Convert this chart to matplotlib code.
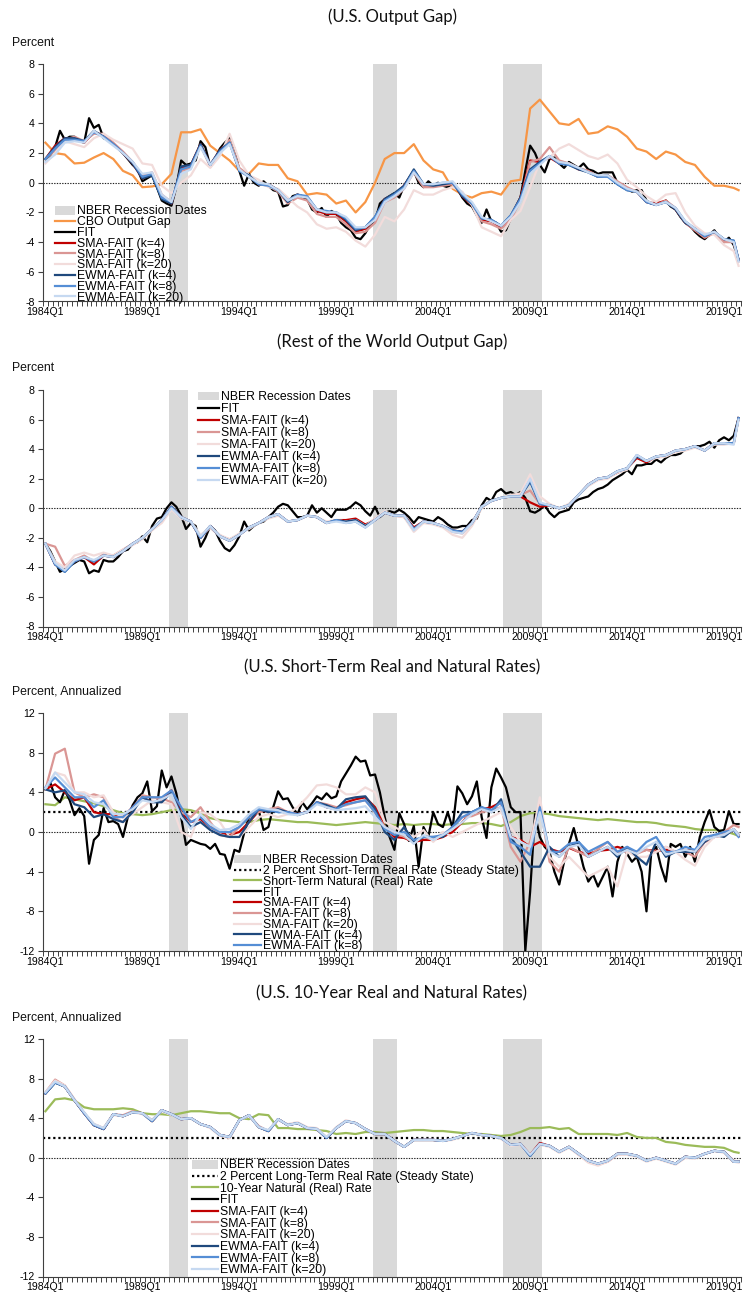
import matplotlib
matplotlib.use("Agg")
import matplotlib.pyplot as plt
from matplotlib.patches import Patch

# ---------------- categories ----------------
START_YEAR = 1984
N_Q = 144
QUARTERS = [f"{START_YEAR + k // 4}Q{k % 4 + 1}" for k in range(N_Q)]
TICK_LABELS = ["1984Q1", "1989Q1", "1994Q1", "1999Q1", "2004Q1", "2009Q1", "2014Q1", "2019Q1"]
RECESSIONS = [("1990Q3", "1991Q2"), ("2001Q1", "2002Q1"), ("2007Q4", "2009Q3")]
# semi-annual readings (Q1 and Q3 of each year, plus the last quarter)
SEMI_Q = QUARTERS[0::2] + [QUARTERS[-1]]

# ---------------- Panel 1: U.S. output gap ----------------
us_cbo = [2.7, 2.0, 1.9, 1.3, 1.35, 1.7, 2.0, 1.6, 0.8, 0.5,
          -0.3, -0.25, -0.1, 0.6, 3.4, 3.4, 3.6, 2.5, 2.0, 1.5,
          0.8, 0.6, 1.3, 1.2, 1.2, 0.3, 0.1, -0.8, -0.7, -0.8,
          -1.4, -1.2, -2.0, -1.3, 0.0, 1.6, 2.0, 2.0, 2.6, 1.5,
          0.9, 0.7, -0.4, -0.8, -1.0, -0.7, -0.6, -0.8, 0.1, 0.2,
          5.0, 5.6, 4.8, 4.0, 3.9, 4.3, 3.3, 3.4, 3.8, 3.6,
          3.1, 2.3, 2.1, 1.6, 2.1, 1.9, 1.4, 1.2, 0.4, -0.2,
          -0.2, -0.35, -0.5]
us_fit = [1.6, 1.8, 2.4, 3.5, 2.9, 3.1, 3.1, 2.8, 2.7, 4.35, 3.7, 3.9, 3.0, 2.9, 2.6, 2.3, 2.0, 1.6, 1.2, 0.9,
          0.1, 0.3, 0.5, -0.3, -1.2, -1.4, -1.55, -0.3, 1.5, 1.2, 1.3, 1.5, 2.8, 2.4, 1.1, 1.6, 2.3, 2.7, 3.0, 2.3,
          0.8, -0.2, 0.6, 0.0, -0.2, 0.1, -0.2, -0.5, -0.6, -1.6, -1.5, -0.9, -0.8, -1.0, -1.1, -1.8, -2.0, -1.7, -2.3, -1.9,
          -2.1, -2.7, -3.0, -3.2, -3.7, -3.8, -3.4, -2.8, -2.6, -1.4, -1.1, -0.9, -0.7, -1.0, -0.2, 0.3, 0.8, 0.0, -0.3, 0.1,
          -0.2, 0.0, -0.2, -0.3, 0.0, -0.4, -1.0, -1.4, -1.6, -2.2, -2.7, -1.8, -2.6, -2.7, -3.3, -3.2, -2.4, -1.7, -1.0, 0.8,
          2.5, 2.0, 1.2, 0.7, 1.6, 1.7, 1.3, 1.0, 1.4, 1.2, 1.0, 1.3, 0.9, 0.8, 0.6, 0.7, 0.7, 0.7, 0.0, -0.3,
          -0.4, -0.6, -0.5, -0.5, -1.2, -1.4, -1.3, -1.4, -1.2, -1.6, -1.8, -2.3, -2.7, -2.9, -3.3, -3.6, -3.8, -3.5, -3.2, -3.7,
          -4.0, -3.7, -4.2, -5.2]
us_sma4 = [1.6, 2.5, 3.0, 3.0, 2.7, 3.4, 3.2, 2.6, 2.0, 1.3,
           0.3, 0.6, -1.0, -1.4, 1.0, 1.2, 2.6, 1.2, 2.2, 2.8,
           0.9, 0.5, -0.1, -0.1, -0.5, -1.3, -0.8, -1.0, -1.9, -2.1,
           -2.1, -2.6, -3.3, -3.1, -2.4, -1.1, -0.8, -0.2, 0.8, -0.2,
           -0.2, -0.1, 0.0, -0.9, -1.5, -2.5, -2.6, -3.0, -2.3, -1.0,
           1.5, 1.4, 1.7, 1.3, 1.3, 0.9, 0.8, 0.4, 0.5, 0.0,
           -0.4, -0.6, -1.3, -1.4, -1.2, -1.8, -2.7, -3.2, -3.7, -3.3,
           -3.9, -4.0, -5.2]
us_sma8 = [1.6, 2.2, 2.9, 3.1, 2.8, 3.3, 3.3, 2.7, 2.1, 1.4,
           0.5, 0.7, -0.8, -1.3, 0.8, 1.0, 2.5, 1.1, 2.1, 2.9,
           1.0, 0.5, -0.1, -0.2, -0.6, -1.4, -1.0, -1.2, -2.1, -2.3,
           -2.3, -2.8, -3.4, -3.3, -2.7, -1.3, -1.0, -0.4, 0.7, -0.3,
           -0.3, -0.2, -0.1, -0.8, -1.5, -2.6, -2.8, -3.1, -2.5, -1.2,
           1.4, 1.6, 2.4, 1.5, 1.3, 1.0, 0.8, 0.4, 0.5, 0.1,
           -0.3, -0.6, -1.3, -1.5, -1.2, -1.7, -2.7, -3.2, -3.7, -3.4,
           -4.0, -4.0, -5.3]
us_sma20 = [1.3, 2.0, 2.8, 2.6, 2.4, 3.0, 3.3, 2.9, 2.6, 2.3,
            1.3, 1.2, -0.2, -0.7, 0.0, 0.5, 1.6, 1.0, 1.8, 3.3,
            1.5, 0.5, 0.2, -0.3, -0.4, -1.0, -1.6, -2.0, -2.8, -3.1,
            -3.0, -3.3, -3.9, -4.3, -3.5, -2.3, -2.6, -1.8, -0.5, -0.8,
            -0.8, -0.5, -0.3, -0.6, -1.5, -3.0, -3.3, -3.6, -2.5, -1.9,
            -0.3, 1.4, 1.7, 2.3, 2.6, 2.2, 1.8, 1.6, 1.9, 1.3,
            0.2, -0.3, -0.9, -1.3, -0.8, -0.7, -2.0, -2.9, -3.4, -3.5,
            -4.2, -4.6, -5.6]
us_ewma4 = [1.6, 2.4, 3.0, 3.0, 2.8, 3.5, 3.1, 2.6, 2.0, 1.3,
            0.3, 0.5, -1.1, -1.4, 1.1, 1.2, 2.6, 1.2, 2.2, 2.7,
            0.8, 0.5, -0.1, -0.1, -0.5, -1.3, -0.8, -1.0, -1.8, -2.0,
            -2.0, -2.5, -3.2, -3.0, -2.3, -1.1, -0.7, -0.2, 0.9, -0.1,
            -0.2, -0.1, 0.0, -0.9, -1.4, -2.4, -2.5, -2.9, -2.2, -1.0,
            0.9, 1.4, 1.8, 1.3, 1.2, 0.9, 0.7, 0.4, 0.5, -0.1,
            -0.5, -0.6, -1.3, -1.5, -1.3, -1.8, -2.7, -3.1, -3.6, -3.3,
            -3.8, -3.9, -5.2]
us_ewma8 = [1.6, 2.3, 2.9, 2.9, 2.8, 3.4, 3.1, 2.6, 2.0, 1.4,
            0.4, 0.6, -1.0, -1.3, 0.9, 1.1, 2.5, 1.2, 2.1, 2.7,
            0.8, 0.4, -0.1, -0.2, -0.5, -1.2, -0.8, -0.9, -1.8, -1.9,
            -2.0, -2.4, -3.1, -3.0, -2.3, -1.2, -0.8, -0.3, 0.8, -0.1,
            -0.1, 0.0, 0.0, -0.8, -1.4, -2.4, -2.5, -2.9, -2.2, -1.1,
            0.8, 1.3, 1.8, 1.3, 1.2, 1.0, 0.7, 0.4, 0.4, -0.1,
            -0.5, -0.6, -1.3, -1.5, -1.3, -1.7, -2.6, -3.1, -3.6, -3.3,
            -3.8, -3.9, -5.2]
us_ewma20 = [1.4, 1.9, 2.7, 2.8, 2.7, 3.5, 3.0, 2.5, 2.0, 1.4,
             0.6, 0.7, -0.8, -1.3, 0.6, 0.9, 2.4, 1.2, 2.0, 2.6,
             0.9, 0.4, 0.0, -0.1, -0.5, -1.2, -0.9, -1.0, -1.8, -2.0,
             -2.0, -2.3, -3.0, -3.0, -2.5, -1.3, -0.9, -0.4, 0.7, -0.1,
             -0.1, 0.0, 0.1, -0.7, -1.3, -2.3, -2.6, -2.9, -2.3, -1.3,
             0.6, 1.2, 1.8, 1.4, 1.3, 1.0, 0.7, 0.5, 0.5, 0.0,
             -0.4, -0.6, -1.2, -1.5, -1.3, -1.7, -2.6, -3.1, -3.5, -3.3,
             -3.8, -4.0, -5.3]

# ---------------- Panel 2: rest of the world output gap ----------------
row_fit = [-2.4, -2.9, -3.6, -4.3, -4.1, -3.9, -3.7, -3.5, -3.6, -4.4, -4.2, -4.3, -3.5, -3.6, -3.6, -3.3, -2.9, -2.8, -2.4, -2.3,
           -1.9, -2.3, -1.2, -0.7, -0.6, 0.0, 0.4, 0.1, -0.5, -1.4, -1.0, -1.2, -2.6, -2.0, -1.2, -1.5, -2.2, -2.7, -2.9, -2.5,
           -1.9, -0.9, -1.5, -1.2, -1.0, -0.9, -0.6, -0.3, 0.1, 0.3, 0.2, -0.2, -0.6, -0.6, -0.5, 0.2, -0.3, 0.0, -0.3, -0.6,
           -0.1, -0.1, -0.1, 0.1, 0.4, 0.2, -0.2, -0.5, 0.1, -0.6, -0.3, -0.2, -0.3, -0.1, -0.3, -0.6, -1.0, -0.6, -0.7, -0.8,
           -0.9, -0.6, -0.8, -1.1, -1.3, -1.3, -1.2, -1.2, -0.8, -0.7, 0.2, 0.7, 0.5, 1.1, 1.3, 1.0, 1.1, 0.9, 1.1, 0.7,
           -0.2, -0.3, -0.1, 0.2, -0.3, -0.6, -0.3, -0.2, -0.1, 0.4, 0.6, 0.7, 0.8, 1.1, 1.3, 1.4, 1.6, 1.9, 2.1, 2.3,
           2.6, 2.3, 2.9, 2.9, 3.0, 3.0, 3.3, 3.1, 3.4, 3.6, 3.6, 3.7, 4.0, 4.1, 4.2, 4.2, 4.3, 4.5, 4.1, 4.6,
           4.8, 4.6, 4.9, 6.1]
row_sma4 = [-2.4, -3.8, -4.2, -3.6, -3.3, -3.8, -3.2, -3.3, -2.9, -2.4,
            -2.0, -1.4, -0.8, 0.1, -0.6, -0.9, -2.0, -1.2, -1.9, -2.2,
            -1.8, -1.3, -1.0, -0.6, -0.4, -0.9, -0.8, -0.5, -0.6, -1.0,
            -0.8, -0.8, -0.7, -1.1, -0.8, -0.3, -0.5, -0.5, -1.3, -0.9,
            -1.0, -1.2, -1.5, -1.6, -1.0, 0.1, 0.5, 0.7, 0.8, 0.8,
            0.4, 0.1, 0.2, 0.0, 0.2, 0.9, 1.6, 2.0, 2.1, 2.4,
            2.7, 3.4, 3.1, 3.5, 3.6, 3.9, 4.0, 4.2, 3.9, 4.4,
            4.4, 4.4, 6.1]
row_sma8 = [-2.4, -2.6, -3.9, -3.5, -3.2, -3.6, -3.1, -3.2, -2.8, -2.4,
            -2.0, -1.4, -0.9, 0.0, -0.6, -0.9, -2.0, -1.3, -1.9, -2.1,
            -1.8, -1.3, -1.0, -0.6, -0.4, -0.9, -0.8, -0.5, -0.6, -1.0,
            -0.8, -0.9, -0.8, -1.2, -0.7, -0.3, -0.5, -0.6, -1.4, -0.9,
            -1.0, -1.2, -1.6, -1.7, -1.0, 0.1, 0.5, 0.7, 0.8, 0.9,
            1.2, 0.3, 0.2, 0.0, 0.2, 0.9, 1.6, 2.0, 2.1, 2.5,
            2.7, 3.5, 3.2, 3.5, 3.6, 3.9, 4.0, 4.2, 3.9, 4.4,
            4.4, 4.4, 6.1]
row_sma20 = [-2.4, -3.6, -4.0, -3.2, -3.0, -3.2, -3.0, -3.2, -2.8, -2.5,
             -2.1, -1.5, -1.0, -0.1, -0.7, -0.9, -1.8, -1.3, -1.8, -2.1,
             -1.7, -1.4, -1.0, -0.7, -0.5, -0.9, -0.8, -0.5, -0.6, -0.9,
             -0.8, -0.9, -0.8, -1.2, -0.7, -0.2, -0.5, -0.6, -1.6, -1.0,
             -1.1, -1.3, -1.8, -2.0, -1.2, 0.0, 0.5, 0.7, 0.9, 1.0,
             2.3, 0.8, 0.3, 0.0, 0.3, 0.9, 1.5, 1.9, 2.0, 2.4,
             2.6, 3.6, 3.2, 3.4, 3.5, 3.8, 3.9, 4.1, 3.9, 4.3,
             4.3, 4.4, 6.0]
row_ewma4 = [-2.4, -3.8, -4.3, -3.6, -3.3, -3.6, -3.2, -3.3, -2.9, -2.4,
             -2.0, -1.4, -0.8, 0.1, -0.6, -0.9, -2.0, -1.2, -1.9, -2.2,
             -1.8, -1.3, -1.0, -0.6, -0.4, -0.9, -0.8, -0.5, -0.6, -1.0,
             -0.8, -0.9, -0.8, -1.2, -0.8, -0.3, -0.5, -0.5, -1.4, -0.9,
             -1.0, -1.2, -1.5, -1.6, -1.0, 0.1, 0.5, 0.7, 0.8, 0.8,
             1.8, 0.3, 0.2, 0.0, 0.2, 0.9, 1.6, 2.0, 2.1, 2.5,
             2.7, 3.5, 3.2, 3.5, 3.6, 3.9, 4.0, 4.2, 3.9, 4.4,
             4.4, 4.4, 6.1]
row_ewma8 = [-2.4, -3.8, -4.3, -3.6, -3.3, -3.6, -3.2, -3.3, -2.9, -2.4,
             -2.0, -1.4, -0.8, 0.1, -0.6, -0.9, -2.0, -1.2, -1.9, -2.2,
             -1.8, -1.3, -1.0, -0.6, -0.4, -0.9, -0.8, -0.5, -0.6, -1.0,
             -0.8, -1.0, -0.9, -1.3, -0.8, -0.3, -0.5, -0.5, -1.4, -0.9,
             -1.0, -1.2, -1.5, -1.6, -1.0, 0.1, 0.5, 0.7, 0.8, 0.8,
             1.9, 0.3, 0.2, 0.0, 0.2, 0.9, 1.6, 2.0, 2.1, 2.5,
             2.7, 3.6, 3.2, 3.5, 3.6, 3.9, 4.0, 4.2, 3.9, 4.4,
             4.4, 4.4, 6.1]
row_ewma20 = [-2.4, -3.7, -4.2, -3.5, -3.3, -3.5, -3.2, -3.3, -2.9, -2.4,
              -2.0, -1.4, -0.8, 0.0, -0.6, -0.9, -1.9, -1.2, -1.9, -2.2,
              -1.8, -1.3, -1.0, -0.6, -0.4, -0.9, -0.8, -0.5, -0.6, -1.0,
              -0.9, -1.0, -0.9, -1.3, -0.8, -0.3, -0.5, -0.5, -1.5, -0.9,
              -1.0, -1.2, -1.6, -1.7, -1.0, 0.1, 0.5, 0.7, 0.8, 0.8,
              2.0, 0.4, 0.2, 0.0, 0.2, 0.9, 1.6, 2.0, 2.1, 2.5,
              2.7, 3.6, 3.2, 3.5, 3.6, 3.9, 4.0, 4.2, 3.9, 4.4,
              4.4, 4.3, 6.0]

# ---------------- Panel 3: U.S. short-term real and natural rates ----------------
st_natural = [2.8, 2.7, 3.5, 3.3, 3.1, 2.9, 2.6, 2.2, 1.9, 1.8,
              1.7, 1.8, 2.0, 2.2, 2.3, 2.2, 1.9, 1.4, 1.2, 1.1,
              1.0, 1.0, 1.2, 1.3, 1.2, 1.1, 1.0, 1.0, 0.9, 0.8,
              0.7, 0.8, 0.9, 1.0, 0.9, 0.8, 0.7, 0.8, 0.7, 0.8,
              0.8, 0.7, 0.8, 0.8, 0.9, 0.9, 0.8, 0.6, 1.0, 1.6,
              1.9, 1.9, 1.8, 1.6, 1.5, 1.4, 1.3, 1.2, 1.3, 1.2,
              1.1, 1.0, 1.0, 0.9, 0.7, 0.6, 0.5, 0.3, 0.2, 0.2,
              0.1, -0.2, -0.4]
st_fit = [4.3, 5.0, 3.5, 3.0, 4.2, 3.2, 1.7, 2.4, 1.6, -3.2, -0.8, -0.3, 2.4, 1.0, 1.1, 0.8, -0.5, 1.5, 2.7, 3.5,
          3.9, 5.1, 2.1, 2.6, 6.2, 4.5, 5.6, 3.9, 1.5, -1.3, -0.8, -1.0, -1.2, -1.3, -1.7, -1.2, -2.2, -2.3, -3.7, -1.8,
          -2.0, -0.1, 1.5, 2.0, 2.2, 0.2, 0.5, 2.5, 4.1, 3.3, 3.4, 2.5, 1.8, 3.0, 2.3, 2.9, 3.6, 3.3, 3.9, 3.4,
          3.6, 5.1, 5.9, 6.7, 7.6, 7.1, 7.2, 5.7, 5.8, 4.0, 1.5, -0.5, -1.8, 1.9, 0.8, -0.9, 0.6, -3.5, 0.5, -0.5,
          2.0, 0.8, 0.5, 2.0, 0.4, 4.6, 3.9, 2.8, 3.6, 5.1, 1.5, -0.6, 4.5, 6.4, 5.5, 4.5, 2.5, 2.0, 2.0, -12.0,
          -6.0, 1.8, -0.5, -1.5, -2.0, -4.0, -5.3, -3.0, -1.2, 0.4, -1.5, -3.5, -5.0, -4.3, -5.5, -4.5, -3.5, -6.5, -3.0, -1.5,
          -2.2, -3.0, -2.5, -4.0, -8.0, -2.0, -1.5, -3.5, -5.0, -1.2, -1.5, -1.2, -2.5, -1.5, -3.0, -0.5, 1.0, 2.2, 0.5, 0.1,
          0.2, 2.1, 0.8, 0.8]
st_sma4 = [4.3, 4.8, 4.0, 3.2, 3.5, 2.0, 1.8, 1.8, 1.5, 2.5,
           3.5, 3.0, 3.3, 4.2, 2.0, 1.0, 1.3, 0.5, 0.0, -0.3,
           0.0, 1.0, 2.1, 2.1, 2.3, 2.0, 1.8, 2.0, 3.0, 2.5,
           2.3, 3.0, 3.3, 3.5, 2.5, 0.5, -0.5, -0.6, -1.0, -0.8,
           -0.8, -0.5, 0.0, 1.0, 2.0, 2.3, 2.5, 3.0, -0.5, -0.8,
           -1.5, -1.0, -1.7, -2.0, -1.6, -2.0, -2.2, -1.9, -1.8, -1.5,
           -1.8, -2.0, -1.8, -1.9, -1.8, -2.0, -1.8, -2.0, -1.0, -0.5,
           -0.3, 0.2, -0.4]
st_sma8 = [4.3, 7.9, 8.4, 4.0, 3.5, 3.8, 3.5, 1.5, 1.0, 2.0,
           3.7, 3.5, 3.4, 3.0, 2.0, 1.5, 2.5, 1.0, -0.3, -0.5,
           0.5, 1.5, 2.0, 2.3, 2.5, 2.0, 1.8, 2.0, 3.0, 2.8,
           2.5, 2.7, 3.0, 3.2, 2.0, 0.5, 0.0, -0.5, -1.0, -0.5,
           -0.8, -0.3, 0.5, 1.5, 1.6, 2.0, 2.2, 2.5, -1.5, -3.0,
           -1.0, 2.8, -3.0, -4.0, -1.5, -2.0, -2.5, -1.7, -1.0, -2.0,
           -2.0, -2.2, -1.8, -2.0, -1.5, -2.0, -2.0, -2.5, -1.0, -0.5,
           0.0, 0.7, 0.5]
st_sma20 = [4.3, 6.0, 5.7, 4.0, 4.0, 3.5, 3.7, 2.0, 1.5, 1.8,
            2.5, 3.2, 3.0, 2.8, 0.0, -0.5, 2.0, 1.8, 1.0, -0.5,
            -0.5, 0.5, 1.5, 1.8, 1.5, 1.8, 2.5, 3.5, 4.7, 4.8,
            4.5, 3.8, 3.8, 4.5, 4.0, 1.0, 0.5, 0.0, -0.5, 0.2,
            -1.0, 0.0, -0.5, 0.0, 0.5, 1.0, 1.5, 2.0, 0.5, -1.0,
            -1.5, 3.5, -2.5, -3.5, -2.5, -3.5, -4.5, -4.0, -3.5, -5.5,
            -2.0, -2.5, -2.5, -2.0, -1.5, -2.0, -2.8, -3.4, -1.5, -0.5,
            -0.3, 0.2, -0.2]
st_ewma4 = [4.3, 4.0, 4.2, 2.8, 2.5, 1.5, 1.8, 1.3, 1.0, 2.0,
            3.5, 3.0, 3.0, 4.0, 1.8, 0.5, 1.0, 0.2, -0.3, -0.5,
            -0.5, 1.0, 2.3, 2.0, 2.3, 2.0, 1.7, 2.0, 3.0, 2.7,
            2.3, 3.3, 3.5, 3.6, 2.3, 0.0, -0.8, 0.5, -1.0, -0.5,
            -0.5, -0.5, 0.5, 2.0, 2.0, 2.5, 2.0, 3.3, -0.5, -2.0,
            -3.5, -3.5, -1.5, -2.5, -1.5, -1.0, -2.5, -2.0, -1.5, -2.5,
            -1.5, -2.5, -3.3, -1.0, -2.5, -2.0, -2.0, -2.0, -1.0, -0.3,
            -0.5, 0.3, -0.3]
st_ewma8 = [4.5, 5.5, 4.5, 3.5, 3.5, 2.5, 3.2, 1.5, 1.5, 2.5,
            3.5, 3.5, 3.5, 4.2, 2.5, 1.0, 1.5, 0.5, 0.0, 0.0,
            0.5, 1.5, 2.3, 2.2, 2.0, 2.0, 1.8, 2.0, 3.0, 2.5,
            2.3, 2.8, 3.0, 3.2, 2.0, 0.3, -0.3, 0.0, -0.8, -0.5,
            -0.5, -0.3, 0.5, 1.5, 2.0, 2.5, 2.2, 3.0, -1.0, -1.5,
            -2.3, 2.5, -2.0, -2.0, -1.2, -1.0, -2.0, -1.5, -1.0, -2.0,
            -1.5, -2.0, -1.0, -0.5, -2.0, -2.0, -1.5, -1.8, -0.5, -0.3,
            0.0, 0.2, -0.5]
st_ewma20 = [4.4, 6.0, 5.0, 4.0, 3.8, 3.0, 2.8, 1.8, 1.8, 2.3,
             3.2, 3.0, 3.3, 3.8, 1.5, 0.3, 1.8, 0.8, 0.2, 0.3,
             0.8, 1.8, 2.5, 2.3, 2.2, 1.8, 1.7, 2.0, 2.8, 2.5,
             2.2, 2.3, 2.4, 2.6, 1.5, 0.5, 0.0, -0.3, -1.2, -0.3,
             -0.8, -0.3, 0.3, 1.0, 1.8, 2.3, 2.0, 2.5, -0.5, -1.0,
             -1.5, 2.0, -2.0, -2.5, -1.5, -1.3, -2.5, -2.0, -1.5, -2.3,
             -1.8, -2.2, -1.5, -1.0, -2.3, -2.0, -1.8, -2.0, -0.8, -0.5,
             -0.3, 0.3, -0.3]

# ---------------- Panel 4: U.S. 10-year real and natural rates ----------------
lt_natural = [4.7, 5.9, 6.0, 5.8, 5.1, 4.9, 4.9, 4.9, 5.0, 4.9,
              4.5, 4.4, 4.4, 4.3, 4.5, 4.7, 4.7, 4.6, 4.5, 4.5,
              4.0, 3.9, 4.4, 4.3, 3.0, 3.0, 2.9, 2.9, 2.8, 2.7,
              2.4, 2.5, 2.4, 2.6, 2.6, 2.5, 2.6, 2.7, 2.8, 2.8,
              2.7, 2.7, 2.6, 2.5, 2.4, 2.4, 2.3, 2.2, 2.3, 2.6,
              3.0, 3.0, 3.1, 2.9, 3.0, 2.4, 2.4, 2.4, 2.4, 2.3,
              2.5, 2.1, 2.0, 2.0, 1.6, 1.5, 1.3, 1.2, 1.1, 1.1,
              1.0, 0.6, 0.5]
lt_fit = [6.5, 7.6, 7.2, 5.8, 4.5, 3.3, 2.9, 4.4, 4.2, 4.6,
          4.5, 3.7, 4.8, 4.4, 3.9, 4.0, 3.4, 3.1, 2.3, 2.1,
          3.8, 4.3, 3.1, 2.7, 3.9, 3.3, 3.5, 3.0, 2.9, 2.0,
          3.0, 3.7, 3.5, 2.9, 2.4, 2.4, 1.7, 1.1, 1.8, 1.8,
          1.8, 1.7, 1.9, 2.2, 2.5, 2.3, 2.2, 2.0, 1.3, 1.4,
          0.2, 1.4, 1.2, 0.6, 1.1, 0.4, -0.3, -0.6, -0.3, 0.4,
          0.4, 0.2, -0.3, 0.0, -0.3, -0.6, 0.1, 0.0, 0.4, 0.7,
          0.6, -0.4, -0.4]
lt_sma4 = [6.5, 7.7, 7.2, 5.8, 4.5, 3.3, 2.9, 4.4, 4.2, 4.6,
           4.5, 3.7, 4.8, 4.4, 3.9, 4.0, 3.4, 3.1, 2.3, 2.1,
           3.8, 4.3, 3.1, 2.7, 3.9, 3.3, 3.5, 3.0, 2.9, 2.0,
           3.0, 3.7, 3.5, 2.9, 2.4, 2.4, 1.7, 1.1, 1.8, 1.8,
           1.8, 1.7, 1.9, 2.2, 2.5, 2.3, 2.2, 2.0, 1.3, 1.4,
           0.3, 1.5, 1.2, 0.6, 1.1, 0.4, -0.3, -0.6, -0.3, 0.4,
           0.4, 0.2, -0.3, 0.0, -0.3, -0.6, 0.1, 0.0, 0.4, 0.7,
           0.6, -0.4, -0.4]
lt_sma8 = [6.6, 7.9, 7.3, 5.9, 4.5, 3.4, 3.0, 4.4, 4.3, 4.7,
           4.5, 3.8, 4.8, 4.4, 3.9, 4.0, 3.4, 3.1, 2.3, 2.0,
           3.8, 4.3, 3.2, 2.7, 3.9, 3.3, 3.5, 3.0, 2.9, 2.0,
           3.0, 3.7, 3.5, 2.9, 2.4, 2.4, 1.7, 1.1, 1.8, 1.8,
           1.8, 1.7, 1.9, 2.2, 2.5, 2.3, 2.2, 2.0, 1.3, 1.4,
           0.3, 1.4, 1.2, 0.6, 1.1, 0.3, -0.4, -0.7, -0.4, 0.3,
           0.4, 0.2, -0.3, 0.0, -0.3, -0.6, 0.0, 0.0, 0.4, 0.7,
           0.6, -0.3, -0.4]
lt_sma20 = [6.6, 7.8, 7.3, 5.9, 4.5, 3.4, 3.0, 4.3, 4.2, 4.6,
            4.4, 3.7, 4.7, 4.3, 3.9, 4.0, 3.4, 3.0, 2.2, 2.0,
            3.8, 4.2, 3.1, 2.7, 3.8, 3.4, 3.6, 3.1, 3.0, 2.1,
            3.1, 3.8, 3.5, 2.9, 2.4, 2.4, 1.7, 1.1, 1.8, 1.8,
            1.8, 1.7, 1.8, 2.2, 2.5, 2.3, 2.2, 1.9, 1.2, 1.3,
            0.2, 1.3, 1.1, 0.5, 1.0, 0.3, -0.5, -0.8, -0.4, 0.3,
            0.3, 0.1, -0.4, -0.1, -0.4, -0.7, 0.0, -0.1, 0.4, 0.7,
            0.5, -0.4, -0.5]
lt_ewma4 = [6.5, 7.6, 7.2, 5.8, 4.5, 3.3, 2.9, 4.4, 4.2, 4.6,
            4.5, 3.7, 4.8, 4.4, 3.9, 4.0, 3.4, 3.1, 2.3, 2.1,
            3.8, 4.3, 3.1, 2.7, 3.9, 3.3, 3.5, 3.0, 2.9, 2.0,
            3.0, 3.7, 3.5, 2.9, 2.4, 2.4, 1.7, 1.1, 1.8, 1.8,
            1.8, 1.7, 1.9, 2.2, 2.5, 2.3, 2.2, 2.0, 1.3, 1.4,
            0.2, 1.4, 1.2, 0.6, 1.1, 0.4, -0.3, -0.6, -0.3, 0.4,
            0.4, 0.2, -0.3, 0.0, -0.3, -0.6, 0.1, 0.0, 0.4, 0.7,
            0.6, -0.4, -0.4]
lt_ewma8 = [6.5, 7.6, 7.2, 5.8, 4.5, 3.3, 2.9, 4.4, 4.2, 4.6,
            4.5, 3.7, 4.8, 4.4, 3.9, 4.0, 3.4, 3.1, 2.3, 2.1,
            3.8, 4.3, 3.1, 2.7, 3.9, 3.3, 3.5, 3.0, 2.9, 2.0,
            3.0, 3.7, 3.5, 2.9, 2.4, 2.4, 1.7, 1.1, 1.8, 1.8,
            1.8, 1.7, 1.9, 2.2, 2.5, 2.3, 2.2, 2.0, 1.3, 1.4,
            0.2, 1.4, 1.2, 0.6, 1.1, 0.4, -0.3, -0.6, -0.3, 0.4,
            0.4, 0.2, -0.3, 0.0, -0.3, -0.6, 0.1, 0.0, 0.4, 0.7,
            0.6, -0.4, -0.4]
lt_ewma20 = [6.6, 7.7, 7.2, 5.8, 4.6, 3.4, 3.0, 4.4, 4.2, 4.6,
             4.5, 3.8, 4.8, 4.4, 3.9, 4.0, 3.4, 3.1, 2.3, 2.1,
             3.8, 4.3, 3.1, 2.8, 3.9, 3.3, 3.5, 3.0, 2.9, 2.1,
             3.0, 3.7, 3.5, 2.9, 2.4, 2.4, 1.7, 1.1, 1.8, 1.8,
             1.8, 1.7, 1.9, 2.2, 2.5, 2.3, 2.2, 2.0, 1.3, 1.4,
             0.3, 1.4, 1.2, 0.6, 1.1, 0.4, -0.3, -0.6, -0.3, 0.4,
             0.4, 0.2, -0.3, 0.0, -0.3, -0.6, 0.1, 0.0, 0.4, 0.7,
             0.6, -0.4, -0.4]

# ---------------- styling ----------------
C_REC = "#D9D9D9"
C_CBO = "#F79646"
C_FIT = "#000000"
C_SMA4 = "#C00000"
C_SMA8 = "#DA9694"
C_SMA20 = "#F2DCDB"
C_EW4 = "#1F497D"
C_EW8 = "#558ED5"
C_EW20 = "#C6D9F1"
C_NAT = "#9BBB59"
LW = 1.6
SANS = ["Liberation Sans", "DejaVu Sans"]
TITLE_FONT = ["Lato", "DejaVu Sans"]

W, H = 745, 1296
fig = plt.figure(figsize=(W / 100, H / 100), dpi=100)
plt.rcParams["font.family"] = SANS

QIDX = {q: k for k, q in enumerate(QUARTERS)}


def xpos(values):
    if len(values) == N_Q:
        return [QIDX[q] for q in QUARTERS]
    assert len(values) == len(SEMI_Q), len(values)
    return [QIDX[q] for q in SEMI_Q]


AX_L, AX_R = 43, 741


def make_axes(top, bottom):
    return fig.add_axes([AX_L / W, 1 - bottom / H, (AX_R - AX_L) / W, (bottom - top) / H])


panels = [
    dict(top=64, bottom=301.5, title="(U.S. Output Gap)", title_y=17, ylab="Percent", ylab_y=43,
         ylim=(-8, 8), yticks=range(-8, 9, 2), two=False,
         series=[("CBO Output Gap", us_cbo, C_CBO), ("FIT", us_fit, C_FIT),
                 ("SMA-FAIT (k=4)", us_sma4, C_SMA4), ("SMA-FAIT (k=8)", us_sma8, C_SMA8),
                 ("SMA-FAIT (k=20)", us_sma20, C_SMA20), ("EWMA-FAIT (k=4)", us_ewma4, C_EW4),
                 ("EWMA-FAIT (k=8)", us_ewma8, C_EW8), ("EWMA-FAIT (k=20)", us_ewma20, C_EW20)],
         leg_x=55, leg_y=210, leg_hl=20, leg_ls=-0.10, n_leg=99),
    dict(top=390, bottom=626.5, title="(Rest of the World Output Gap)", title_y=342, ylab="Percent", ylab_y=368,
         ylim=(-8, 8), yticks=range(-8, 9, 2), two=False,
         series=[("FIT", row_fit, C_FIT),
                 ("SMA-FAIT (k=4)", row_sma4, C_SMA4), ("SMA-FAIT (k=8)", row_sma8, C_SMA8),
                 ("SMA-FAIT (k=20)", row_sma20, C_SMA20), ("EWMA-FAIT (k=4)", row_ewma4, C_EW4),
                 ("EWMA-FAIT (k=8)", row_ewma8, C_EW8), ("EWMA-FAIT (k=20)", row_ewma20, C_EW20)],
         leg_x=198, leg_y=396, leg_hl=21, leg_ls=0.0, n_leg=99),
    dict(top=713, bottom=951, title="(U.S. Short-Term Real and Natural Rates)", title_y=667,
         ylab="Percent, Annualized", ylab_y=692,
         ylim=(-12, 12), yticks=range(-12, 13, 4), two="2 Percent Short-Term Real Rate (Steady State)",
         series=[("Short-Term Natural (Real) Rate", st_natural, C_NAT), ("FIT", st_fit, C_FIT),
                 ("SMA-FAIT (k=4)", st_sma4, C_SMA4), ("SMA-FAIT (k=8)", st_sma8, C_SMA8),
                 ("SMA-FAIT (k=20)", st_sma20, C_SMA20), ("EWMA-FAIT (k=4)", st_ewma4, C_EW4),
                 ("EWMA-FAIT (k=8)", st_ewma8, C_EW8), ("EWMA-FAIT (k=20)", st_ewma20, C_EW20)],
         leg_x=234, leg_y=858.7, leg_hl=27, leg_ls=-0.10, n_leg=9),
    dict(top=1039, bottom=1276.5, title="(U.S. 10-Year Real and Natural Rates)", title_y=993,
         ylab="Percent, Annualized", ylab_y=1018,
         ylim=(-12, 12), yticks=range(-12, 13, 4), two="2 Percent Long-Term Real Rate (Steady State)",
         series=[("10-Year Natural (Real) Rate", lt_natural, C_NAT), ("FIT", lt_fit, C_FIT),
                 ("SMA-FAIT (k=4)", lt_sma4, C_SMA4), ("SMA-FAIT (k=8)", lt_sma8, C_SMA8),
                 ("SMA-FAIT (k=20)", lt_sma20, C_SMA20), ("EWMA-FAIT (k=4)", lt_ewma4, C_EW4),
                 ("EWMA-FAIT (k=8)", lt_ewma8, C_EW8), ("EWMA-FAIT (k=20)", lt_ewma20, C_EW20)],
         leg_x=192, leg_y=1164, leg_hl=26, leg_ls=-0.03, n_leg=99),
]

FS_LEG = 8.8
FS_PX = FS_LEG * 100 / 72

for p in panels:
    ax = make_axes(p["top"], p["bottom"])
    ax.set_xlim(-0.5, N_Q - 0.5)
    ax.set_ylim(*p["ylim"])
    handles, labels = [], []
    for s, e in RECESSIONS:
        ax.axvspan(QIDX[s] - 0.5, QIDX[e] + 0.5, color=C_REC, lw=0, zorder=0)
    handles.append(Patch(facecolor=C_REC, edgecolor="none"))
    labels.append("NBER Recession Dates")
    ax.axhline(0, color="#202020", lw=0.8, ls=(0, (1.2, 1.2)), zorder=1)
    if p["two"]:
        h2 = ax.axhline(2, color="black", lw=1.6, ls=(0, (1, 1.3)), zorder=1)
        handles.append(h2)
        labels.append(p["two"])
    for k, (lab, vals, col) in enumerate(p["series"]):
        ln, = ax.plot(xpos(vals), vals, color=col, lw=LW, zorder=2 + k, solid_joinstyle="round")
        handles.append(ln)
        labels.append(lab)
    n = min(p["n_leg"], len(handles))
    handles, labels = handles[:n], labels[:n]

    # axes styling
    for side in ("top", "right"):
        ax.spines[side].set_visible(False)
    for side in ("left", "bottom"):
        ax.spines[side].set_color("#404040")
        ax.spines[side].set_linewidth(0.8)
    ax.set_yticks(list(p["yticks"]))
    ax.set_yticklabels([str(v) for v in p["yticks"]], fontsize=7.6)
    ax.tick_params(axis="y", direction="out", length=3.5, width=0.8, color="#404040", pad=2.5)
    ax.set_xticks([QIDX[t] for t in TICK_LABELS])
    ax.set_xticklabels(TICK_LABELS, fontsize=7.6)
    ax.set_xticks([k - 0.5 for k in range(N_Q + 1)], minor=True)
    ax.tick_params(axis="x", which="major", length=0, pad=4)
    ax.tick_params(axis="x", which="minor", direction="out", length=3.5, width=0.7, color="#404040")

    ax_h = p["bottom"] - p["top"]
    ax.text(0.5, 1 + (p["top"] - p["title_y"]) / ax_h, p["title"], transform=ax.transAxes,
            ha="center", va="center", fontsize=12, family=TITLE_FONT, color="#111111")
    fig.text(12 / W, 1 - p["ylab_y"] / H, p["ylab"], ha="left", va="center", fontsize=8.8, color="#111111")

    top_px = p["leg_y"] - 4.5
    leg = ax.legend(handles, labels, loc="upper left",
                    bbox_to_anchor=(p["leg_x"] / W, 1 - top_px / H), bbox_transform=fig.transFigure,
                    frameon=False, borderpad=0, borderaxespad=0, fontsize=FS_LEG,
                    handlelength=p["leg_hl"] / FS_PX, handletextpad=0.15,
                    labelspacing=p["leg_ls"], handleheight=0.7)
    leg.set_zorder(20)

fig.savefig("out.png", dpi=100)
